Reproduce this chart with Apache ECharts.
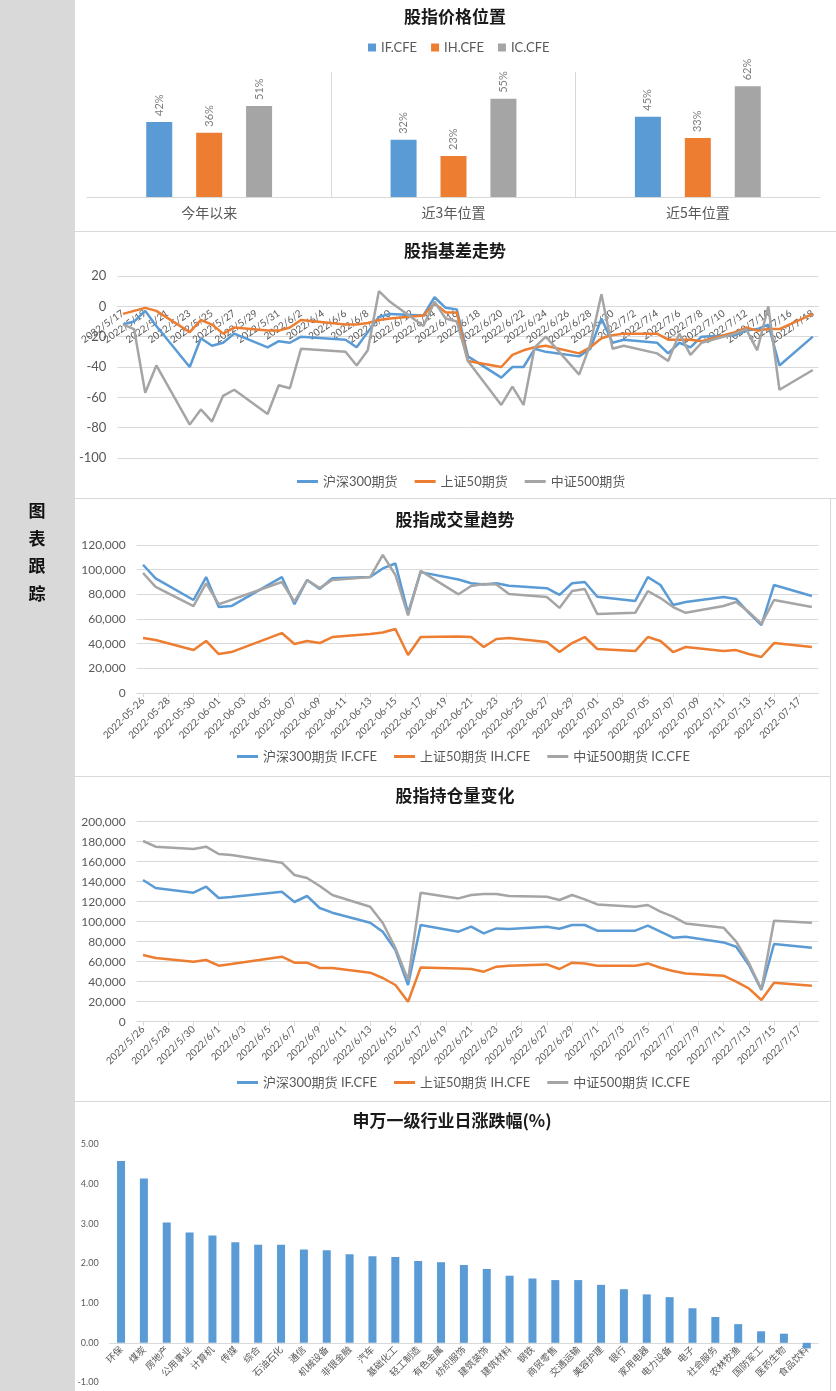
<!DOCTYPE html>
<html><head><meta charset="utf-8">
<script src="https://cdn.jsdelivr.net/npm/echarts@6/dist/echarts.min.js"></script>
<style>html,body{margin:0;padding:0;background:#fff}#c{width:836px;height:1391px}</style>
</head><body><div id="c"></div>
<script>
// ---------- data ----------
const posCategories = ['今年以来', '近3年位置', '近5年位置'];
const posIF = [42, 32, 45];
const posIH = [36, 23, 33];
const posIC = [51, 55, 62];

const basisDays = ['5/17','5/18','5/19','5/20','5/23','5/24','5/25','5/26','5/27','5/30','5/31','6/1','6/2','6/6','6/7','6/8','6/9','6/10','6/13','6/14','6/15','6/16','6/17','6/20','6/21','6/22','6/23','6/24','6/27','6/28','6/29','6/30','7/1','7/4','7/5','7/6','7/7','7/8','7/11','7/12','7/13','7/14','7/15','7/18'];
const basisIF = [-12,-10,-3,-13,-40,-21,-26,-24,-18,-27,-23,-24,-20,-22,-27,-17,-7,-5,-6,6,-1,-2,-33,-47,-40,-40,-28,-30,-33,-28,-8,-24,-22,-24,-31,-24,-27,-20,-19,-16,-15,-12,-39,-20];
const basisIH = [-5,-3,-1,-3,-17,-9,-12,-18,-14,-16,-16,-14,-9,-12,-12,-11,-9,-8,-6,2,-4,-4,-36,-40,-32,-29,-27,-26,-31,-27,-21,-19,-18,-18,-22,-22,-22,-23,-17,-14,-16,-15,-15,-5];
const basisIC = [-12,-15,-57,-39,-78,-68,-76,-59,-55,-71,-52,-54,-28,-30,-39,-29,10,3,-13,3,-8,-10,-36,-65,-53,-65,-27,-20,-45,-25,8,-28,-26,-31,-36,-18,-32,-24,-18,-15,-29,0,-55,-42];

const tradeDays = ['5/26','5/27','5/30','5/31','6/1','6/2','6/6','6/7','6/8','6/9','6/10','6/13','6/14','6/15','6/16','6/17','6/20','6/21','6/22','6/23','6/24','6/27','6/28','6/29','6/30','7/1','7/4','7/5','7/6','7/7','7/8','7/11','7/12','7/13','7/14','7/15','7/18'];
const volIF = [104000,93000,75400,94000,69700,70500,94000,72000,91600,84300,93000,94000,101000,105000,65000,98000,92000,89000,88000,89000,87000,85000,79500,89000,90000,78000,74600,94000,87600,71400,73800,77800,76200,64900,55000,87600,78600];
const volIH = [44600,43000,34900,42200,31600,33200,48600,39700,42200,40500,45400,47800,49000,51900,30800,45400,45800,45400,37300,43800,44600,41400,33200,40500,45400,35700,34000,45400,42200,33200,37300,34000,34800,31600,29200,40500,37300];
const volIC = [97300,86000,70500,89000,72000,75500,90000,74000,91600,85000,91600,94000,112000,95700,63000,99000,80000,86800,88400,88000,80300,77800,69000,82700,84300,64000,65000,82700,77000,69700,65000,70500,73800,65700,56000,75400,69700];

const oiIF = [141700,133700,129000,135000,123700,124700,130000,119700,125700,113700,109000,99000,90000,71700,36700,96700,90000,95000,88300,93300,92700,95000,93000,96700,96700,91000,91000,96000,90000,84000,85000,79300,75000,56700,31700,77700,74000];
const oiIH = [66700,63700,60000,61700,56000,57700,65000,59000,59000,53700,53700,49000,43700,36700,20000,54300,53300,52700,50000,55000,56000,57300,52700,59000,58300,56000,56000,58300,54000,50700,48300,46000,40000,33300,21700,39000,36000];
const oiIC = [180700,175000,172700,175000,167700,166700,159000,146700,143700,135700,126700,115000,98700,73700,41700,129000,123300,126700,127700,127700,125700,125000,121700,126700,122300,117300,115000,116700,110000,105000,98300,94000,80000,59000,32300,101000,99000];

const industries = ['环保','煤炭','房地产','公用事业','计算机','传媒','综合','石油石化','通信','机械设备','非银金融','汽车','基础化工','轻工制造','有色金属','纺织服饰','建筑装饰','建筑材料','钢铁','商贸零售','交通运输','美容护理','银行','家用电器','电力设备','电子','社会服务','农林牧渔','国防军工','医药生物','食品饮料'];
const industryChg = [4.58,4.14,3.03,2.78,2.70,2.53,2.47,2.47,2.35,2.33,2.23,2.18,2.16,2.06,2.03,1.96,1.86,1.69,1.62,1.58,1.58,1.46,1.35,1.22,1.15,0.87,0.65,0.47,0.29,0.23,-0.14];

const sideText = ['图', '表', '跟', '踪'];

// ---------- helpers ----------
function calendar(startMD, endMD) {
  const [sm, sd] = startMD.split('/').map(Number);
  const [em, ed] = endMD.split('/').map(Number);
  let t = Date.UTC(2022, sm - 1, sd);
  const e = Date.UTC(2022, em - 1, ed);
  const out = [];
  while (t <= e) { const d = new Date(t); out.push((d.getUTCMonth() + 1) + '/' + d.getUTCDate()); t += 86400000; }
  return out;
}
function align(cal, days, vals) { return cal.map(c => { const i = days.indexOf(c); return i < 0 ? null : vals[i]; }); }
const fmtSlash = md => '2022/' + md;
const fmtDash = md => { const [m, d] = md.split('/'); return '2022-' + m.padStart(2, '0') + '-' + d.padStart(2, '0'); };

const basisCal = calendar(basisDays[0], basisDays[basisDays.length - 1]);
const tradeCal = calendar(tradeDays[0], tradeDays[tradeDays.length - 1]);

const C_BLUE = '#5b9bd5', C_ORANGE = '#ed7d31', C_GRAY = '#a5a5a5';
const GRID_C = '#d9d9d9', TXT = '#595959';
const NUMF = 'Lato, "Noto Sans CJK SC", sans-serif';
const CJK = '"Noto Sans CJK SC", sans-serif';

// grid geometry (panel layout)
const G = [
  { left: 87, top: 72, width: 733, height: 125 },
  { left: 117.4, top: 276, width: 701, height: 182 },
  { left: 136.7, top: 545, width: 681.5, height: 148 },
  { left: 136.7, top: 821.7, width: 681.5, height: 200 },
  { left: 109.6, top: 1144.3, width: 708.6, height: 238.2 }
];
// offset of the zero line from the bottom of a value range
const zeroOffset = (g, min, max) => -g.height * (0 - min) / (max - min);

const titleStyle = { fontSize: 17, fontWeight: 'bold', color: '#1a1a1a', fontFamily: CJK };
const mkTitle = (text, top, left) => ({ text, left: left || 455, top, textAlign: 'center', padding: 0, textStyle: titleStyle });
const legendText = { color: TXT, fontSize: 13, fontFamily: NUMF };
const lineLegend = (data, left, top) => ({ data, left, top, padding: 0, icon: 'rect', itemWidth: 21, itemHeight: 3, itemGap: 17, textStyle: legendText });

const lineS = (name, data, color, idx) => ({ name, type: 'line', xAxisIndex: idx, yAxisIndex: idx, data, connectNulls: true, symbol: 'none', showSymbol: false, lineStyle: { width: 2.5, color }, itemStyle: { color } });
const barLbl = { show: true, position: 'top', rotate: 90, align: 'left', verticalAlign: 'middle', distance: 6, formatter: '{c}%', color: '#7f7f7f', fontSize: 11, fontFamily: NUMF };
const thousands = v => v.toLocaleString('en-US');

const dateAxis = (idx, data, rotate, extra) => Object.assign({
  gridIndex: idx, type: 'category', data, boundaryGap: true, position: 'bottom',
  axisLine: { onZero: false, lineStyle: { color: GRID_C } },
  axisTick: { show: false },
  axisLabel: { interval: 1, rotate, fontSize: 10, color: TXT, fontFamily: NUMF, margin: 6 },
  splitLine: { show: false }
}, extra || {});
const valAxis = (idx, min, max, interval, fmt, fontSize) => ({
  gridIndex: idx, type: 'value', min, max, interval,
  axisLine: { show: false }, axisTick: { show: false },
  axisLabel: { color: TXT, fontSize: fontSize || 12, fontFamily: NUMF, margin: 11, formatter: fmt },
  splitLine: { show: true, lineStyle: { color: GRID_C, width: 1 } }
});

const graphics = [
  { type: 'rect', silent: true, shape: { x: 0, y: 0, width: 75, height: 1391 }, style: { fill: '#d9d9d9' } },
  { type: 'line', silent: true, shape: { x1: 75, y1: 231.5, x2: 836, y2: 231.5 }, style: { stroke: GRID_C, lineWidth: 1 } },
  { type: 'line', silent: true, shape: { x1: 75, y1: 498.5, x2: 836, y2: 498.5 }, style: { stroke: GRID_C, lineWidth: 1 } },
  { type: 'line', silent: true, shape: { x1: 75, y1: 776.5, x2: 831, y2: 776.5 }, style: { stroke: GRID_C, lineWidth: 1 } },
  { type: 'line', silent: true, shape: { x1: 75, y1: 1101.5, x2: 831, y2: 1101.5 }, style: { stroke: GRID_C, lineWidth: 1 } },
  { type: 'line', silent: true, shape: { x1: 830.5, y1: 498.5, x2: 830.5, y2: 1391 }, style: { stroke: GRID_C, lineWidth: 1 } }
];
sideText.forEach((ch, i) => graphics.push({ type: 'text', silent: true, x: 37, y: 511 + i * 27.5, style: { text: ch, fill: '#111', font: 'bold 17px "Noto Sans CJK SC"', align: 'center', verticalAlign: 'middle' } }));

const option = {
  animation: false,
  textStyle: { fontFamily: NUMF },
  graphic: graphics,
  title: [
    mkTitle('股指价格位置', 8),
    mkTitle('股指基差走势', 242),
    mkTitle('股指成交量趋势', 511),
    mkTitle('股指持仓量变化', 787),
    mkTitle('申万一级行业日涨跌幅(%)', 1112, 452)
  ],
  legend: [
    { data: ['IF.CFE', 'IH.CFE', 'IC.CFE'], left: 368, top: 41, padding: 0, icon: 'rect', itemWidth: 8, itemHeight: 8, itemGap: 14, textStyle: legendText },
    lineLegend(['沪深300期货', '上证50期货', '中证500期货'], 297, 475),
    lineLegend(['沪深300期货 IF.CFE', '上证50期货 IH.CFE', '中证500期货 IC.CFE'], 237, 750),
    lineLegend(['沪深300期货 IF.CFE', '上证50期货 IH.CFE', '中证500期货 IC.CFE'], 237, 1076)
  ],
  grid: G.map(g => Object.assign({ outerBoundsMode: 'none' }, g)),
  xAxis: [
    { gridIndex: 0, type: 'category', data: posCategories,
      axisLine: { lineStyle: { color: GRID_C } }, axisTick: { show: false },
      axisLabel: { color: TXT, fontSize: 14, fontFamily: CJK, margin: 9 },
      splitLine: { show: true, showMinLine: false, showMaxLine: false, lineStyle: { color: GRID_C } } },
    dateAxis(1, basisCal.map(fmtSlash), 35, { offset: zeroOffset(G[1], -100, 20) }),
    dateAxis(2, tradeCal.map(fmtDash), 45, { axisTick: { show: true, alignWithLabel: true, interval: 1, length: 4, lineStyle: { color: GRID_C } } }),
    dateAxis(3, tradeCal.map(fmtSlash), 45, { axisTick: { show: true, alignWithLabel: true, interval: 1, length: 4, lineStyle: { color: GRID_C } } }),
    { gridIndex: 4, type: 'category', data: industries, position: 'bottom', offset: zeroOffset(G[4], -1, 5),
      axisLine: { onZero: false, lineStyle: { color: GRID_C } }, axisTick: { show: false },
      axisLabel: { interval: 0, rotate: 45, fontSize: 9.5, color: TXT, fontFamily: CJK, margin: 5 } }
  ],
  yAxis: [
    { gridIndex: 0, type: 'value', min: 0, max: 70, show: false },
    valAxis(1, -100, 20, 20, null, 13),
    valAxis(2, 0, 120000, 20000, thousands, 12),
    valAxis(3, 0, 200000, 20000, thousands, 12),
    Object.assign(valAxis(4, -1, 5, 1, v => v.toFixed(2), 9), { splitLine: { show: false } })
  ],
  series: [
    { name: 'IF.CFE', type: 'bar', xAxisIndex: 0, yAxisIndex: 0, data: posIF, barWidth: 26, barGap: '92%', itemStyle: { color: C_BLUE }, label: barLbl },
    { name: 'IH.CFE', type: 'bar', xAxisIndex: 0, yAxisIndex: 0, data: posIH, barWidth: 26, barGap: '92%', itemStyle: { color: C_ORANGE }, label: barLbl },
    { name: 'IC.CFE', type: 'bar', xAxisIndex: 0, yAxisIndex: 0, data: posIC, barWidth: 26, barGap: '92%', itemStyle: { color: C_GRAY }, label: barLbl },

    lineS('沪深300期货', align(basisCal, basisDays, basisIF), C_BLUE, 1),
    lineS('上证50期货', align(basisCal, basisDays, basisIH), C_ORANGE, 1),
    lineS('中证500期货', align(basisCal, basisDays, basisIC), C_GRAY, 1),

    lineS('沪深300期货 IF.CFE', align(tradeCal, tradeDays, volIF), C_BLUE, 2),
    lineS('上证50期货 IH.CFE', align(tradeCal, tradeDays, volIH), C_ORANGE, 2),
    lineS('中证500期货 IC.CFE', align(tradeCal, tradeDays, volIC), C_GRAY, 2),

    lineS('沪深300期货 IF.CFE', align(tradeCal, tradeDays, oiIF), C_BLUE, 3),
    lineS('上证50期货 IH.CFE', align(tradeCal, tradeDays, oiIH), C_ORANGE, 3),
    lineS('中证500期货 IC.CFE', align(tradeCal, tradeDays, oiIC), C_GRAY, 3),

    { name: '涨跌幅', type: 'bar', xAxisIndex: 4, yAxisIndex: 4, data: industryChg, barWidth: 8, itemStyle: { color: C_BLUE } }
  ]
};

const chart = echarts.init(document.getElementById('c'), null, { renderer: 'canvas', width: 836, height: 1391 });
chart.setOption(option);
</script>
</body></html>
